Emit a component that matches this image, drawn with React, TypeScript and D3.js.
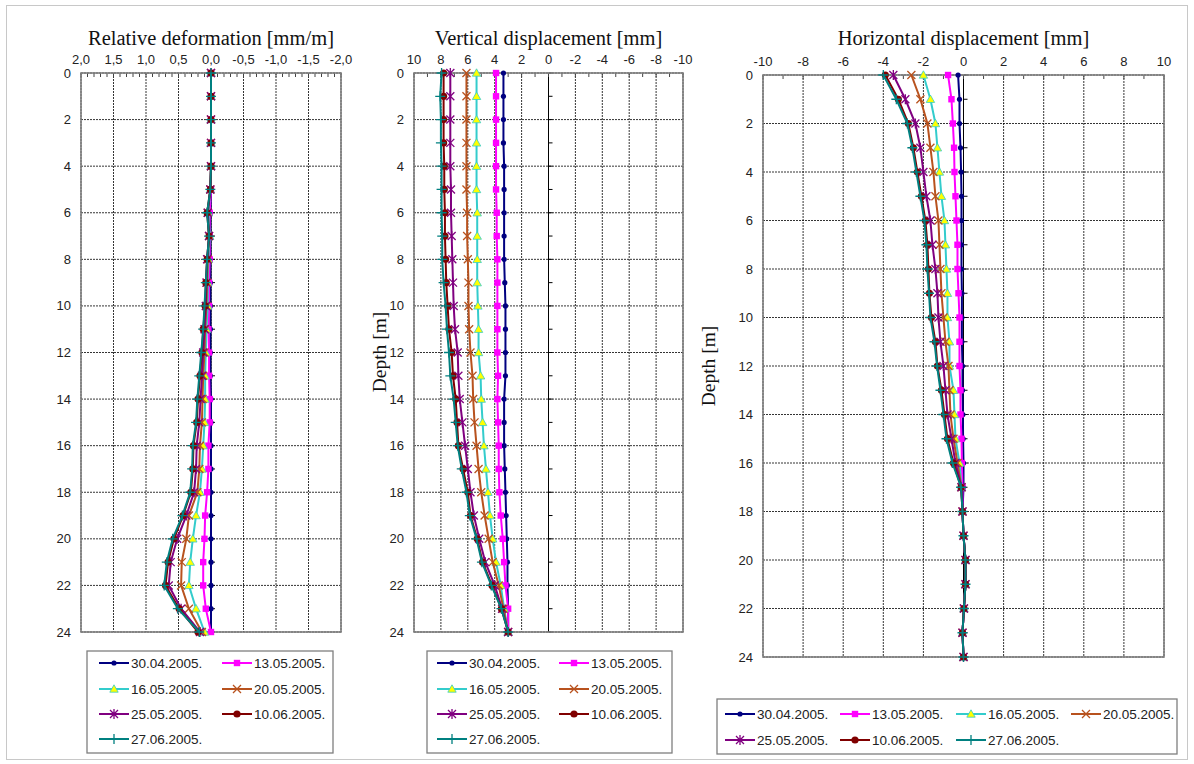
import React, { useRef, useEffect } from 'react';
import * as d3 from 'd3';

// depths of the measuring points [m]
const depths = [0, 1, 2, 3, 4, 5, 6, 7, 8, 9, 10, 11, 12, 13, 14, 15, 16, 17, 18, 19, 20, 21, 22, 23, 24];

const seriesNames = ['30.04.2005.', '13.05.2005.', '16.05.2005.', '20.05.2005.', '25.05.2005.', '10.06.2005.', '27.06.2005.'];
const seriesColors = ['#000080', '#ff00ff', '#33cccc', '#b8521e', '#800080', '#800000', '#008080'];
const seriesMarkers = ['dot', 'square', 'triangle', 'x', 'star', 'circle', 'plus'];

// relative deformation [mm/m], one row per series, values by depth 0..24
const relDeformation = [
  [0, 0, 0, 0, 0, 0, 0.01, 0.01, 0.01, 0.01, 0.01, 0.01, 0.01, 0.01, 0, 0, 0, 0, 0, 0, 0, 0, 0, 0, 0],
  [0, 0, 0, 0, 0, 0, 0.02, 0.02, 0.02, 0.03, 0.03, 0.04, 0.03, 0.03, 0.02, 0.02, 0.04, 0.04, 0.06, 0.09, 0.1, 0.12, 0.12, 0.08, 0],
  [0, 0, 0, 0, 0, 0.01, 0.04, 0.02, 0.04, 0.05, 0.05, 0.07, 0.08, 0.09, 0.09, 0.1, 0.12, 0.14, 0.17, 0.23, 0.28, 0.32, 0.34, 0.23, 0.1],
  [0, 0, 0, 0, 0, 0.01, 0.05, 0.03, 0.05, 0.06, 0.07, 0.09, 0.1, 0.12, 0.13, 0.14, 0.17, 0.18, 0.21, 0.34, 0.38, 0.45, 0.46, 0.34, 0.14],
  [0, 0, 0, 0, 0, 0.01, 0.05, 0.03, 0.06, 0.07, 0.08, 0.1, 0.12, 0.14, 0.16, 0.18, 0.22, 0.23, 0.26, 0.38, 0.52, 0.62, 0.65, 0.46, 0.17],
  [0, 0, 0, 0, 0, 0.01, 0.06, 0.03, 0.06, 0.08, 0.09, 0.12, 0.14, 0.17, 0.2, 0.22, 0.27, 0.28, 0.31, 0.43, 0.57, 0.66, 0.7, 0.49, 0.2],
  [0, 0, 0, 0, 0, 0.01, 0.06, 0.03, 0.06, 0.08, 0.1, 0.12, 0.15, 0.18, 0.21, 0.23, 0.28, 0.29, 0.32, 0.44, 0.59, 0.68, 0.72, 0.51, 0.18],
];

// vertical displacement [mm]
const vertDisplacement = [
  [3.35, 3.35, 3.35, 3.35, 3.3, 3.3, 3.3, 3.3, 3.3, 3.25, 3.2, 3.2, 3.2, 3.2, 3.3, 3.3, 3.3, 3.25, 3.2, 3.15, 3.1, 3.05, 3.05, 3.0, 3.0],
  [3.9, 3.9, 3.9, 3.9, 3.9, 3.9, 3.85, 3.85, 3.8, 3.8, 3.8, 3.8, 3.8, 3.75, 3.8, 3.75, 3.7, 3.7, 3.65, 3.55, 3.4, 3.3, 3.2, 3.0, 3.0],
  [5.35, 5.35, 5.35, 5.35, 5.35, 5.35, 5.3, 5.3, 5.3, 5.3, 5.25, 5.2, 5.2, 5.05, 5.0, 4.9, 4.8, 4.65, 4.5, 4.35, 4.15, 3.9, 3.55, 3.3, 3.0],
  [6.1, 6.1, 6.1, 6.1, 6.1, 6.1, 6.05, 6.05, 6.0, 5.95, 5.95, 5.9, 5.8, 5.65, 5.6, 5.5, 5.35, 5.2, 5.0, 4.75, 4.45, 4.15, 3.7, 3.35, 3.0],
  [7.3, 7.3, 7.3, 7.3, 7.3, 7.25, 7.25, 7.2, 7.15, 7.1, 7.05, 6.95, 6.75, 6.7, 6.6, 6.4, 6.2, 6.0, 5.8, 5.55, 5.15, 4.7, 4.0, 3.45, 3.0],
  [7.8, 7.8, 7.8, 7.8, 7.75, 7.75, 7.7, 7.7, 7.65, 7.6, 7.5, 7.4, 7.2, 7.1, 6.9, 6.8, 6.7, 6.35, 6.0, 5.8, 5.3, 4.9, 4.2, 3.5, 3.0],
  [7.95, 8.05, 8.0, 8.0, 7.95, 7.95, 7.95, 7.9, 7.9, 7.8, 7.65, 7.55, 7.4, 7.3, 7.05, 6.9, 6.75, 6.45, 6.1, 5.85, 5.35, 4.95, 4.25, 3.5, 3.0],
];

// horizontal displacement [mm]
const horizDisplacement = [
  [-0.27, -0.2, -0.2, -0.15, -0.12, -0.1, -0.1, -0.1, -0.1, -0.08, -0.08, -0.08, -0.05, -0.05, -0.03, -0.02, 0, 0, -0.05, 0, 0.1, 0.1, 0.02, -0.05, 0],
  [-0.77, -0.6, -0.53, -0.47, -0.45, -0.4, -0.35, -0.3, -0.3, -0.25, -0.2, -0.2, -0.2, -0.15, -0.15, -0.1, -0.08, -0.05, -0.05, 0, 0.1, 0.1, 0.02, -0.05, 0],
  [-2.0, -1.65, -1.4, -1.3, -1.2, -1.1, -0.95, -0.9, -0.85, -0.8, -0.8, -0.7, -0.7, -0.5, -0.45, -0.4, -0.2, -0.1, -0.05, 0, 0.1, 0.1, 0.02, -0.05, 0],
  [-2.6, -2.15, -1.8, -1.65, -1.5, -1.4, -1.25, -1.2, -1.15, -1.1, -1.0, -0.9, -0.75, -0.7, -0.65, -0.5, -0.3, -0.1, -0.05, 0, 0.1, 0.1, 0.02, -0.05, 0],
  [-3.5, -2.9, -2.4, -2.15, -2.0, -1.85, -1.65, -1.55, -1.4, -1.3, -1.25, -1.15, -1.0, -0.9, -0.8, -0.6, -0.4, -0.1, -0.05, 0, 0.1, 0.1, 0.02, -0.05, 0],
  [-3.9, -3.25, -2.75, -2.5, -2.3, -2.1, -1.9, -1.8, -1.75, -1.7, -1.6, -1.4, -1.3, -1.1, -0.95, -0.8, -0.5, -0.12, -0.05, 0, 0.1, 0.1, 0.02, -0.05, 0],
  [-4.0, -3.35, -2.8, -2.55, -2.35, -2.15, -1.95, -1.85, -1.8, -1.72, -1.65, -1.45, -1.32, -1.15, -1.0, -0.85, -0.55, -0.12, -0.05, 0, 0.1, 0.1, 0.02, -0.05, 0],
];

// tick labels
const defTicks = [2, 1.5, 1, 0.5, 0, -0.5, -1, -1.5, -2];
const vertTicks = [10, 8, 6, 4, 2, 0, -2, -4, -6, -8, -10];
const horizTicks = [-10, -8, -6, -4, -2, 0, 2, 4, 6, 8, 10];
const depthTicks = [0, 2, 4, 6, 8, 10, 12, 14, 16, 18, 20, 22, 24];

const panels = [
  {
    title: 'Relative deformation [mm/m]', data: relDeformation, ticks: defTicks, domain: [2, -2], minorStep: 0.1,
    fmt: (v) => v.toFixed(1).replace('.', ','), box: { left: 81, right: 341, top: 73, bottom: 632 },
    depthLabel: null,
    legend: { x: 87, y: 651, w: 246, h: 102, cols: [99, 222], rows: [663, 689, 714, 739], perRow: 2 },
  },
  {
    title: 'Vertical displacement [mm]', data: vertDisplacement, ticks: vertTicks, domain: [10, -10], minorStep: 1,
    fmt: (v) => String(v), box: { left: 414, right: 683, top: 73, bottom: 632 },
    depthLabel: { x: 386, y: 352 },
    legend: { x: 427, y: 651, w: 245, h: 102, cols: [437, 559], rows: [663, 689, 714, 739], perRow: 2 },
  },
  {
    title: 'Horizontal displacement [mm]', data: horizDisplacement, ticks: horizTicks, domain: [-10, 10], minorStep: 1,
    fmt: (v) => String(v), box: { left: 763, right: 1164, top: 75, bottom: 657 },
    depthLabel: { x: 715, y: 366 },
    legend: { x: 717, y: 699, w: 460, h: 55, cols: [725, 840, 956, 1071], rows: [714, 740], perRow: 4 },
  },
];

function drawMarker(g, type, color, x, y) {
  if (type === 'dot') {
    g.append('circle').attr('cx', x).attr('cy', y).attr('r', 2.6).attr('fill', color);
  } else if (type === 'circle') {
    g.append('circle').attr('cx', x).attr('cy', y).attr('r', 3.6).attr('fill', color);
  } else if (type === 'square') {
    g.append('rect').attr('x', x - 3.2).attr('y', y - 3.2).attr('width', 6.4).attr('height', 6.4).attr('fill', color);
  } else if (type === 'triangle') {
    g.append('path').attr('d', `M${x},${y - 4.2}L${x + 4.2},${y + 3.2}L${x - 4.2},${y + 3.2}Z`)
      .attr('fill', '#ffff00').attr('stroke', color).attr('stroke-width', 0.8);
  } else if (type === 'x') {
    g.append('path').attr('d', `M${x - 4},${y - 4}L${x + 4},${y + 4}M${x - 4},${y + 4}L${x + 4},${y - 4}`)
      .attr('stroke', color).attr('stroke-width', 1.3);
  } else if (type === 'star') {
    g.append('path').attr('d', `M${x - 4},${y - 4}L${x + 4},${y + 4}M${x - 4},${y + 4}L${x + 4},${y - 4}M${x},${y - 5}L${x},${y + 5}`)
      .attr('stroke', color).attr('stroke-width', 1.3);
  } else if (type === 'plus') {
    g.append('path').attr('d', `M${x - 5},${y}L${x + 5},${y}M${x},${y - 5}L${x},${y + 5}`)
      .attr('stroke', color).attr('stroke-width', 1.3);
  }
}

function App() {
  const svgRef = useRef(null);

  useEffect(() => {
    const svg = d3.select(svgRef.current);
    svg.selectAll('*').remove();

    // outer frame of the figure
    svg.append('rect').attr('x', 6.5).attr('y', 5.5).attr('width', 1181).attr('height', 754)
      .attr('fill', 'none').attr('stroke', '#c8c8c8').attr('stroke-width', 1);

    panels.forEach((p) => {
      const { left, right, top, bottom } = p.box;
      const x = d3.scaleLinear().domain(p.domain).range([left, right]);
      const y = d3.scaleLinear().domain([0, 24]).range([top, bottom]);
      const g = svg.append('g');

      // grid
      p.ticks.forEach((t) => {
        g.append('line').attr('x1', x(t)).attr('x2', x(t)).attr('y1', top).attr('y2', bottom)
          .attr('stroke', '#000').attr('stroke-width', 0.8).attr('stroke-dasharray', '2,1');
      });
      depthTicks.forEach((d) => {
        g.append('line').attr('x1', left).attr('x2', right).attr('y1', y(d)).attr('y2', y(d))
          .attr('stroke', '#000').attr('stroke-width', 0.8).attr('stroke-dasharray', '2,1');
      });

      // zero axis with minor ticks
      g.append('line').attr('x1', x(0)).attr('x2', x(0)).attr('y1', top).attr('y2', bottom)
        .attr('stroke', '#000').attr('stroke-width', 1);
      depths.forEach((d) => {
        g.append('line').attr('x1', x(0)).attr('x2', x(0) + 4).attr('y1', y(d)).attr('y2', y(d))
          .attr('stroke', '#000').attr('stroke-width', 1);
      });

      // minor ticks on top axis
      const [a, b] = d3.extent(p.domain);
      const n = Math.round((b - a) / p.minorStep);
      for (let i = 0; i <= n; i++) {
        const v = a + i * p.minorStep;
        g.append('line').attr('x1', x(v)).attr('x2', x(v)).attr('y1', top).attr('y2', top + 4)
          .attr('stroke', '#444').attr('stroke-width', 1);
      }

      // frame
      g.append('rect').attr('x', left).attr('y', top).attr('width', right - left).attr('height', bottom - top)
        .attr('fill', 'none').attr('stroke', '#7f7f7f').attr('stroke-width', 1.6);

      // tick labels
      g.selectAll('.xt').data(p.ticks).enter().append('text')
        .attr('x', (d) => x(d)).attr('y', top - 9)
        .attr('text-anchor', 'middle').attr('font-family', 'Liberation Sans, Arial, sans-serif')
        .attr('font-size', 13).attr('fill', '#222').text((d) => p.fmt(d));
      g.selectAll('.yt').data(depthTicks).enter().append('text')
        .attr('x', left - 10).attr('y', (d) => y(d) + 4.5)
        .attr('text-anchor', 'end').attr('font-family', 'Liberation Sans, Arial, sans-serif')
        .attr('font-size', 13).attr('fill', '#222').text((d) => d);

      // title
      g.append('text').attr('x', (left + right) / 2).attr('y', 45).attr('text-anchor', 'middle')
        .attr('font-family', 'Liberation Serif, Times New Roman, serif').attr('font-size', 20.5)
        .attr('fill', '#111').text(p.title);

      if (p.depthLabel) {
        g.append('text').attr('transform', `translate(${p.depthLabel.x},${p.depthLabel.y}) rotate(-90)`)
          .attr('text-anchor', 'middle').attr('font-family', 'Liberation Serif, Times New Roman, serif')
          .attr('font-size', 19.5).attr('fill', '#111').text('Depth [m]');
      }

      // series
      const line = d3.line().x((d) => x(d[0])).y((d) => y(d[1]));
      p.data.forEach((vals, si) => {
        const pts = vals.map((v, i) => [v, depths[i]]);
        g.append('path').attr('d', line(pts)).attr('fill', 'none')
          .attr('stroke', seriesColors[si]).attr('stroke-width', 2);
        pts.forEach((pt) => drawMarker(g, seriesMarkers[si], seriesColors[si], x(pt[0]), y(pt[1])));
      });

      // legend
      const L = p.legend;
      g.append('rect').attr('x', L.x).attr('y', L.y).attr('width', L.w).attr('height', L.h)
        .attr('fill', '#fff').attr('stroke', '#7f7f7f').attr('stroke-width', 1.3);
      seriesNames.forEach((name, si) => {
        const cx = L.cols[si % L.perRow];
        const cy = L.rows[Math.floor(si / L.perRow)];
        g.append('line').attr('x1', cx).attr('x2', cx + 30).attr('y1', cy).attr('y2', cy)
          .attr('stroke', seriesColors[si]).attr('stroke-width', 2);
        drawMarker(g, seriesMarkers[si], seriesColors[si], cx + 15, cy);
        g.append('text').attr('x', cx + 32).attr('y', cy + 5)
          .attr('font-family', 'Liberation Sans, Arial, sans-serif').attr('font-size', 13.5)
          .attr('fill', '#222').text(name);
      });
    });
  }, []);

  return (
    <svg ref={svgRef} width={1194} height={764}
      style={{ position: 'absolute', left: 0, top: 0, background: '#fff' }} />
  );
}

export default App;
